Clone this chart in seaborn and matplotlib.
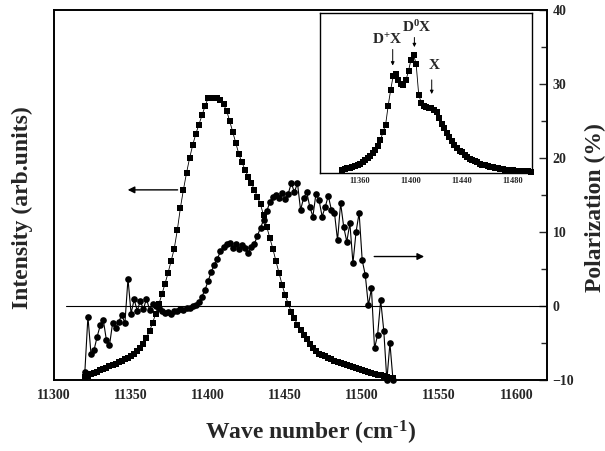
import numpy as np
import matplotlib
matplotlib.use("Agg")
import matplotlib.pyplot as plt
from matplotlib.ticker import MultipleLocator
import seaborn as sns

# wave number grid (cm-1) of the main spectrum
wave = np.arange(11320, 11522, 2)

# PL intensity, normalised to the height of the left axis
intensity = [
    0.008, 0.012, 0.016, 0.019, 0.023, 0.027, 0.030, 0.034, 0.037, 0.041,
    0.045, 0.049, 0.053, 0.057, 0.061, 0.066, 0.072, 0.079, 0.088, 0.099,
    0.115, 0.133, 0.155, 0.180, 0.205, 0.232, 0.260, 0.290, 0.322, 0.355,
    0.405, 0.465, 0.515, 0.560, 0.600, 0.635, 0.665, 0.690, 0.715, 0.740,
    0.762, 0.762, 0.762, 0.762, 0.758, 0.745, 0.728, 0.700, 0.670, 0.640,
    0.610, 0.588, 0.568, 0.550, 0.533, 0.515, 0.495, 0.475, 0.445, 0.415,
    0.385, 0.355, 0.322, 0.290, 0.258, 0.230, 0.206, 0.185, 0.167, 0.150,
    0.136, 0.122, 0.110, 0.098, 0.088, 0.079, 0.072, 0.068, 0.064, 0.060,
    0.056, 0.052, 0.049, 0.046, 0.043, 0.040, 0.038, 0.035, 0.033, 0.030,
    0.028, 0.025, 0.023, 0.020, 0.018, 0.015, 0.013, 0.011, 0.009, 0.007,
    0.005,
]

# degree of polarization (%)
polarization = [
    -8.9, -1.4, -6.5, -5.9, -4.1, -2.6, -1.9, -4.6, -5.3, -2.3,
    -3.0, -2.1, -1.2, -2.3, 3.7, -1.0, 0.9, -0.6, 0.7, -0.4,
    1.0, -0.5, 0.3, 0.0, -0.3, -0.6, -0.9, -0.8, -1.0, -0.7,
    -0.6, -0.4, -0.5, -0.3, -0.2, 0.0, 0.2, 0.6, 1.3, 2.2,
    3.4, 4.6, 5.6, 6.4, 7.4, 8.0, 8.4, 8.5, 7.9, 8.4,
    7.7, 8.2, 7.8, 7.2, 8.0, 8.4, 9.5, 10.6, 11.6, 12.8,
    14.0, 14.7, 15.0, 14.6, 15.3, 14.5, 15.2, 16.6, 15.4, 16.6,
    13.0, 14.6, 15.4, 13.4, 12.1, 15.2, 14.3, 12.1, 13.4, 14.9,
    13.0, 12.6, 8.9, 13.9, 10.7, 8.7, 11.2, 5.8, 10.0, 12.6,
    6.2, 4.2, 0.1, 2.4, -5.7, -3.9, 0.8, -3.3, -10.0, -5.0,
    -10.0,
]

# inset spectrum
inset_wave = np.arange(11346, 11496, 2)
inset_intensity = [
    0.020, 0.025, 0.030, 0.035, 0.040, 0.045, 0.050, 0.060, 0.070, 0.085,
    0.095, 0.110, 0.125, 0.145, 0.170, 0.205, 0.260, 0.300, 0.420, 0.520,
    0.610, 0.620, 0.580, 0.555, 0.550, 0.580, 0.640, 0.710, 0.740, 0.680,
    0.490, 0.440, 0.420, 0.415, 0.410, 0.410, 0.395, 0.380, 0.345, 0.310,
    0.280, 0.250, 0.225, 0.200, 0.175, 0.160, 0.140, 0.130, 0.115, 0.100,
    0.090, 0.080, 0.074, 0.067, 0.060, 0.054, 0.048, 0.043, 0.039, 0.036,
    0.033, 0.030, 0.027, 0.025, 0.023, 0.021, 0.019, 0.018, 0.016, 0.015,
    0.014, 0.013, 0.012, 0.011, 0.010,
]

peak_labels = ["D$^{+}$X", "D$^{0}$X", "X"]
peak_pos = [11385.6, 11402.6, 11416.2]
peak_text = [(11381, 0.83), (11404.5, 0.915), (11418, 0.675)]
peak_arrow = [(0.79, 0.655), (0.865, 0.77), (0.60, 0.477)]

sns.set_style("white")
plt.rcParams["font.family"] = ["Liberation Serif", "DejaVu Serif"]
plt.rcParams["font.weight"] = "bold"
plt.rcParams["axes.labelweight"] = "bold"
plt.rcParams["mathtext.fontset"] = "custom"
plt.rcParams["mathtext.rm"] = "Liberation Serif:bold"
plt.rcParams["mathtext.it"] = "Liberation Serif:bold"
plt.rcParams["mathtext.bf"] = "Liberation Serif:bold"

fig = plt.figure(figsize=(6.05, 4.51), dpi=100)
ax = fig.add_axes([0.0893, 0.157, 0.815, 0.821])
ax2 = ax.twinx()

sns.lineplot(x=wave, y=intensity, ax=ax, color="black", linewidth=0.6,
             marker="s", markersize=4.2, markeredgewidth=0, clip_on=False)
sns.lineplot(x=wave, y=polarization, ax=ax2, color="black", linewidth=0.8,
             marker="o", markersize=4.8, markeredgewidth=0, clip_on=False)
ax2.axhline(0, xmin=(11308 - 11300) / 320, xmax=1, color="black", linewidth=0.8)

ax.set_xlim(11300, 11620)
ax.set_ylim(0, 1)
ax2.set_ylim(-10, 40)
ax.set_yticks([])
ax.xaxis.set_major_locator(MultipleLocator(50))
ax.xaxis.set_minor_locator(MultipleLocator(25))
ax.tick_params(axis="x", which="both", direction="in", labelsize=10, pad=6)
ax.tick_params(axis="x", which="major", length=6, width=1)
ax.tick_params(axis="x", which="minor", length=4, width=1)
ax2.yaxis.set_major_locator(MultipleLocator(10))
ax2.yaxis.set_minor_locator(MultipleLocator(5))
ax2.tick_params(axis="y", which="both", direction="in", labelsize=10, pad=4)
ax2.tick_params(axis="y", which="major", length=6, width=1)
ax2.tick_params(axis="y", which="minor", length=4, width=1)

for a in (ax, ax2):
    for s in a.spines.values():
        s.set_linewidth(1.2)
        s.set_color("black")

ax.set_xlabel(r"Wave number (cm$^{\text{-}1}$)", fontsize=17)
ax.set_ylabel("Intensity (arb.units)", fontsize=17)
ax2.set_ylabel("Polarization (%)", fontsize=17)
ax.xaxis.set_label_coords(0.521, -0.105)
ax.yaxis.set_label_coords(-0.043, 0.465)
ax2.yaxis.set_label_coords(1.077, 0.465)

arrow = dict(arrowstyle="-|>", color="black", lw=1, mutation_scale=10)
ax2.annotate("", xy=(11346, 15.7), xytext=(11382, 15.7), arrowprops=arrow)
ax2.annotate("", xy=(11542, 6.7), xytext=(11506, 6.7), arrowprops=arrow)

# inset
ins = fig.add_axes([0.529, 0.616, 0.350, 0.355])
sns.lineplot(x=inset_wave, y=inset_intensity, ax=ins, color="black",
             linewidth=0.6, marker="s", markersize=4.2, markeredgewidth=0,
             clip_on=False)
ins.set_xlim(11328.6, 11494.7)
ins.set_ylim(0, 1)
ins.set_yticks([])
ins.xaxis.set_major_locator(MultipleLocator(40))
ins.xaxis.set_minor_locator(MultipleLocator(20))
ins.tick_params(axis="x", which="both", direction="in", labelsize=6, pad=3)
ins.tick_params(axis="x", which="major", length=3, width=0.8)
ins.tick_params(axis="x", which="minor", length=2, width=0.8)
for s in ins.spines.values():
    s.set_linewidth(1)
    s.set_color("black")

small_arrow = dict(arrowstyle="-|>", color="black", lw=0.7, mutation_scale=5)
for lab, xp, (tx, ty), (y0, y1) in zip(peak_labels, peak_pos, peak_text, peak_arrow):
    ins.annotate("", xy=(xp, y1), xytext=(xp, y0), arrowprops=small_arrow)
    ins.text(tx, ty, lab, fontsize=11, ha="center", va="center")

fig.savefig("out.png", dpi=100)
